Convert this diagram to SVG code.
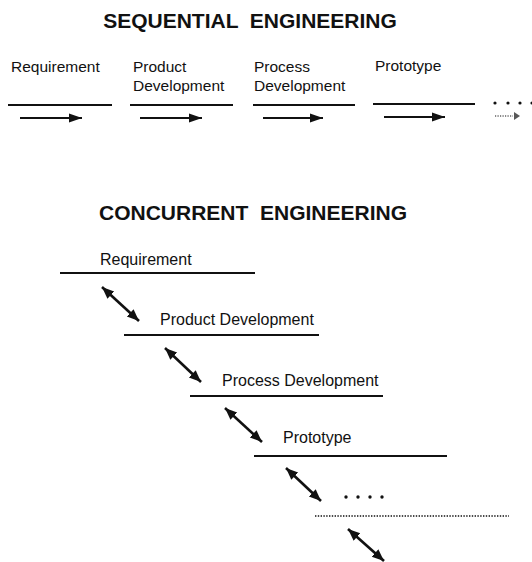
<svg xmlns="http://www.w3.org/2000/svg" width="532" height="562" viewBox="0 0 532 562">
<style>
.title{font-family:"Liberation Sans",Arial,sans-serif;font-weight:bold;font-size:21px;fill:#111;}
.lbl{font-family:"Liberation Sans",Arial,sans-serif;font-size:15.5px;fill:#111;}
.lbl2{font-family:"Liberation Sans",Arial,sans-serif;font-size:16px;fill:#111;}
.bar{stroke:#111;stroke-width:2;fill:none;}
.arr{stroke:#111;stroke-width:2;fill:none;marker-end:url(#ah);}
.darr{stroke:#111;stroke-width:2.6;fill:none;marker-start:url(#dh);marker-end:url(#dh);}
.dot{fill:#111;}
</style>
<defs>
<marker id="ah" markerUnits="userSpaceOnUse" markerWidth="14" markerHeight="10" refX="13" refY="5" orient="auto">
<path d="M0,0.5 L13,5 L0,9.5 z" fill="#111"/>
</marker>
<marker id="dh" markerUnits="userSpaceOnUse" markerWidth="14" markerHeight="12" refX="12" refY="5.5" orient="auto-start-reverse">
<path d="M0,0.5 L12,5.5 L0,10.5 z" fill="#111"/>
</marker>
</defs>

<text class="title" x="250" y="28" text-anchor="middle" xml:space="preserve">SEQUENTIAL  ENGINEERING</text>
<text class="title" x="253" y="220" text-anchor="middle" xml:space="preserve">CONCURRENT  ENGINEERING</text>

<g id="seq-requirement">
<text class="lbl" x="11" y="72">Requirement</text>
<line class="bar" x1="8" y1="105" x2="112" y2="105"/>
</g>
<g id="seq-product">
<text class="lbl" x="133" y="72">Product</text>
<text class="lbl" x="133" y="91">Development</text>
<line class="bar" x1="130" y1="105" x2="233" y2="105"/>
</g>
<g id="seq-process">
<text class="lbl" x="254" y="72">Process</text>
<text class="lbl" x="254" y="91">Development</text>
<line class="bar" x1="253" y1="105" x2="355" y2="105"/>
</g>
<g id="seq-prototype">
<text class="lbl" x="375" y="71">Prototype</text>
<line class="bar" x1="373" y1="104" x2="475" y2="104"/>
</g>
<g id="seq-more">
<circle class="dot" cx="495" cy="103" r="1.6"/>
<circle class="dot" cx="508" cy="103" r="1.6"/>
<circle class="dot" cx="520" cy="103" r="1.6"/>
<circle class="dot" cx="532" cy="103" r="1.6"/>
</g>

<g id="seq-connectors">
<line class="arr" x1="20" y1="118" x2="82" y2="118"/>
<line class="arr" x1="140" y1="118" x2="202" y2="118"/>
<line class="arr" x1="263" y1="118" x2="323" y2="118"/>
<line class="arr" x1="384" y1="117" x2="445" y2="117"/>
<line x1="495" y1="116" x2="513" y2="116" stroke="#111" stroke-width="1" stroke-dasharray="1.2 1.3"/>
<path d="M514,112 L520,116 L514,120 z" fill="#111" opacity="0.7"/>
</g>

<g id="con-requirement">
<text class="lbl2" x="100" y="265">Requirement</text>
<line class="bar" x1="60" y1="273" x2="255" y2="273"/>
</g>
<g id="con-product">
<text class="lbl2" x="160" y="325">Product Development</text>
<line class="bar" x1="124" y1="335" x2="319" y2="335"/>
</g>
<g id="con-process">
<text class="lbl2" x="222" y="386">Process Development</text>
<line class="bar" x1="190" y1="396" x2="383" y2="396"/>
</g>
<g id="con-prototype">
<text class="lbl2" x="283" y="443">Prototype</text>
<line class="bar" x1="254" y1="456" x2="447" y2="456"/>
</g>
<g id="con-more">
<circle class="dot" cx="346" cy="497" r="1.7"/>
<circle class="dot" cx="358" cy="497" r="1.7"/>
<circle class="dot" cx="370" cy="497" r="1.7"/>
<circle class="dot" cx="382" cy="497" r="1.7"/>
<line x1="315" y1="516" x2="509" y2="516" stroke="#111" stroke-width="1.6" stroke-dasharray="1.4 1.4"/>
</g>

<g id="con-connectors">
<line class="darr" x1="102" y1="287" x2="139" y2="321"/>
<line class="darr" x1="165" y1="348" x2="201" y2="382"/>
<line class="darr" x1="225" y1="408" x2="262" y2="442"/>
<line class="darr" x1="286" y1="468" x2="321" y2="501"/>
<line class="darr" x1="348" y1="529" x2="384" y2="561"/>
</g>
</svg>
